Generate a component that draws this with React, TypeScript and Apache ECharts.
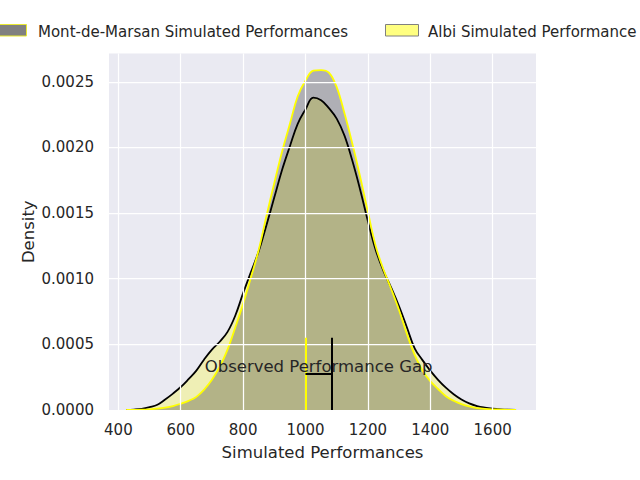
import React, { useEffect, useRef } from "react";
import * as echarts from "echarts";

const xGrid = [425, 450, 475, 500, 525, 550, 575, 600, 625, 650, 675, 700, 725, 750, 775, 800, 825, 850, 875, 900, 925, 950, 975, 1000, 1025, 1050, 1075, 1100, 1125, 1150, 1175, 1200, 1225, 1250, 1275, 1300, 1325, 1350, 1375, 1400, 1425, 1450, 1475, 1500, 1525, 1550, 1575, 1600, 1625, 1650, 1675];

// Albi: black line, yellow fill
const albiDensity = [0.0, 0.000003, 0.000009, 0.000022, 0.00004, 0.00008, 0.000125, 0.000175, 0.000235, 0.0003, 0.000385, 0.00046, 0.00052, 0.000595, 0.00072, 0.00089, 0.00105, 0.00121, 0.00141, 0.00162, 0.00183, 0.00201, 0.00218, 0.00229, 0.00238, 0.00236, 0.0023, 0.00222, 0.00209, 0.0019, 0.00168, 0.00144, 0.00122, 0.00106, 0.00093, 0.00079, 0.00063, 0.00047, 0.00038, 0.0003, 0.00023, 0.00017, 0.00012, 0.00008, 0.00005, 0.00003, 0.000018, 0.00001, 0.000005, 0.000002, 0.000001];

// Mont-de-Marsan: yellow line, dark translucent fill
const mdmDensity = [0.0, 0.000001, 0.000002, 0.000005, 0.00001, 0.000018, 0.00003, 0.000048, 0.00007, 0.0001, 0.000155, 0.00023, 0.00033, 0.00046, 0.00063, 0.00081, 0.00101, 0.00122, 0.00148, 0.00173, 0.00197, 0.00218, 0.00239, 0.00251, 0.002585, 0.00259, 0.00257, 0.00246, 0.00226, 0.00203, 0.00178, 0.00151, 0.00125, 0.00107, 0.00092, 0.00076, 0.00058, 0.00042, 0.0003, 0.00022, 0.00016, 0.000105, 0.00007, 0.000045, 0.000027, 0.000015, 0.000009, 0.000005, 0.000003, 0.000001, 0.0];

const xTicks = [400, 600, 800, 1000, 1200, 1400, 1600];
const yTicks = [0, 0.0005, 0.001, 0.0015, 0.002, 0.0025];

const observedMdm = 1000;
const observedAlbi = 1084;
const gapLineTop = 0.00055;
const gapBarLevel = 0.000274;
const gapLabelLevel = 0.000335;

const seriesNames = ["Mont-de-Marsan Simulated Performances", "Albi Simulated Performance"];

const FONT = "DejaVu Sans";
const TEXT = "#262626";
const X_MIN = 370;
const X_MAX = 1739;
const Y_MAX = 0.002716;

export default function App() {
  const ref = useRef<HTMLDivElement>(null);
  useEffect(() => {
    if (!ref.current) return;
    const chart = echarts.init(ref.current, null, { renderer: "svg" });
    const pair = (xs: number[], ys: number[]) => xs.map((x, i) => [x, ys[i]]);
    chart.setOption({
      animation: false,
      textStyle: { fontFamily: FONT },
      grid: {
        left: 109,
        right: 104,
        top: 53.5,
        bottom: 70,
        show: true,
        backgroundColor: "#eaeaf2",
        borderWidth: 0,
      },
      xAxis: {
        type: "value",
        min: X_MIN,
        max: X_MAX,
        axisLine: { show: false },
        axisTick: { show: false },
        splitLine: { show: false },
        axisLabel: {
          customValues: xTicks,
          color: TEXT,
          fontSize: 15,
          fontFamily: FONT,
          margin: 12,
          formatter: (v: number) => String(Math.round(v)),
        },
        name: "Simulated Performances",
        nameLocation: "middle",
        nameGap: 34,
        nameTextStyle: { color: TEXT, fontSize: 16.5, fontFamily: FONT },
      },
      yAxis: {
        type: "value",
        min: 0,
        max: Y_MAX,
        axisLine: { show: false },
        axisTick: { show: false },
        splitLine: { show: false },
        axisLabel: {
          customValues: yTicks,
          color: TEXT,
          fontSize: 15,
          fontFamily: FONT,
          margin: 15,
          formatter: (v: number) => v.toFixed(4),
        },
        name: "Density",
        nameLocation: "middle",
        nameGap: 72,
        nameMoveOverlap: false,
        nameTextStyle: { color: TEXT, fontSize: 16.5, fontFamily: FONT },
      },
      graphic: [
        { type: "rect", left: -7, top: 24, shape: { width: 33, height: 11.5 }, style: { fill: "#808080", stroke: "#e8e830", lineWidth: 1 } },
        { type: "text", left: 38, top: 24, style: { text: seriesNames[0], fill: TEXT, font: `15px '${FONT}'` } },
        { type: "rect", left: 385, top: 24, shape: { width: 33, height: 11.5 }, style: { fill: "#ffff80", stroke: "#808080", lineWidth: 1 } },
        { type: "text", left: 428, top: 24, style: { text: seriesNames[1], fill: TEXT, font: `15px '${FONT}'` } },
      ],
      series: [
        {
          name: "grid",
          type: "line",
          data: [],
          z: 1,
          silent: true,
          markLine: {
            silent: true,
            symbol: ["none", "none"],
            label: { show: false },
            lineStyle: { color: "#ffffff", width: 1.25, type: "solid" },
            data: [
              ...xTicks.map((v) => [{ coord: [v, 0] }, { coord: [v, Y_MAX] }]),
              ...yTicks.map((v) => [{ coord: [X_MIN, v] }, { coord: [X_MAX, v] }]),
            ],
          },
        },
        {
          name: seriesNames[1],
          type: "line",
          data: pair(xGrid, albiDensity),
          smooth: 0.4,
          showSymbol: false,
          z: 2,
          lineStyle: { color: "#000000", width: 1.8 },
          itemStyle: { color: "#000000" },
          areaStyle: { color: "#ffff00", opacity: 0.25, origin: "start" },
        },
        {
          name: seriesNames[0],
          type: "line",
          data: pair(xGrid, mdmDensity),
          smooth: 0.4,
          showSymbol: false,
          z: 3,
          lineStyle: { color: "#ffff00", width: 1.8 },
          itemStyle: { color: "#ffff00" },
          areaStyle: { color: "#000000", opacity: 0.25, origin: "start" },
        },
        {
          name: "gap",
          type: "line",
          data: [],
          z: 4,
          silent: true,
          markLine: {
            silent: true,
            symbol: ["none", "none"],
            label: { show: false },
            data: [
              [
                { coord: [observedMdm, 0], lineStyle: { color: "#ffff00", width: 2, type: "solid" } },
                { coord: [observedMdm, gapLineTop] },
              ],
              [
                { coord: [observedAlbi, 0], lineStyle: { color: "#000000", width: 2, type: "solid" } },
                { coord: [observedAlbi, gapLineTop] },
              ],
              [
                { coord: [observedMdm, gapBarLevel], lineStyle: { color: "#000000", width: 2, type: "solid" } },
                { coord: [observedAlbi, gapBarLevel] },
              ],
            ],
          },
          markPoint: {
            silent: true,
            symbol: "circle",
            symbolSize: 0,
            data: [
              {
                coord: [(observedMdm + observedAlbi) / 2, gapLabelLevel],
                label: {
                  show: true,
                  position: "inside",
                  formatter: "Observed Performance Gap",
                  color: TEXT,
                  fontSize: 16.5,
                  fontFamily: FONT,
                },
              },
            ],
          },
        },
      ],
    });
    return () => chart.dispose();
  }, []);
  return <div ref={ref} style={{ width: 640, height: 480, position: "absolute", left: 0, top: 0 }} />;
}
